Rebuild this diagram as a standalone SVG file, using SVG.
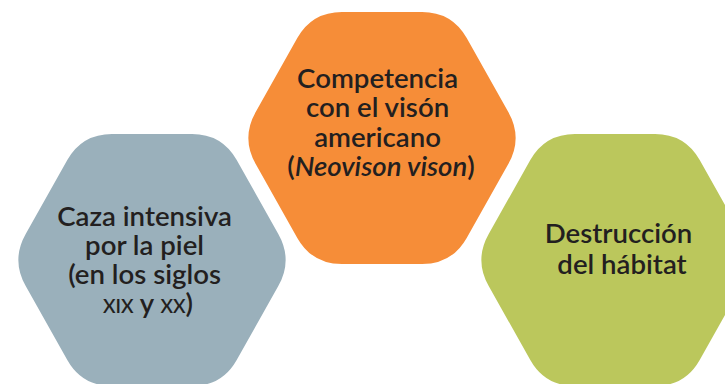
<svg xmlns="http://www.w3.org/2000/svg" xmlns:xlink="http://www.w3.org/1999/xlink" width="725" height="384" viewBox="0 0 725 384">
  <style>
    .lbl { font-family: Lato, "Noto Sans", "Liberation Sans", sans-serif; font-size: 27.6px; font-weight: 600; fill: #231F20; text-anchor: middle; }
    .sc { font-variant: small-caps; }
  </style>
  <defs>
    <path id="hex" d="M -126.3,-26.1 L -84.7,-99.9 Q -70,-126 -40,-126 L 40,-126 Q 70,-126 84.7,-99.9 L 126.3,-26.1 Q 141,0 126.3,26.1 L 84.7,99.9 Q 70,126 40,126 L -40,126 Q -70,126 -84.7,99.9 L -126.3,26.1 Q -141,0 -126.3,-26.1 Z"/>
  </defs>
  <rect width="725" height="384" fill="#FFFFFF"/>
  <g id="connectors"/>
  <g id="node-caza">
    <use xlink:href="#hex" href="#hex" x="152" y="260" fill="#9AB0BB"/>
    <text class="lbl">
      <tspan x="148" y="226">Caza intensiva</tspan>
      <tspan x="148" y="255">por la piel</tspan>
      <tspan x="148" y="284">(en los siglos</tspan>
      <tspan x="148" y="313"><tspan class="sc">xix</tspan> y <tspan class="sc">xx</tspan>)</tspan>
    </text>
  </g>
  <g id="node-competencia">
    <use xlink:href="#hex" href="#hex" x="382" y="138" fill="#F68D38"/>
    <text class="lbl">
      <tspan x="381" y="88">Competencia</tspan>
      <tspan x="381" y="117">con el visón</tspan>
      <tspan x="381" y="147">americano</tspan>
      <tspan x="381" y="176">(<tspan font-style="italic">Neovison vison</tspan>)</tspan>
    </text>
  </g>
  <g id="node-destruccion">
    <use xlink:href="#hex" href="#hex" x="615" y="260" fill="#BBC75C"/>
    <text class="lbl">
      <tspan x="622" y="243">Destrucción</tspan>
      <tspan x="622" y="274">del hábitat</tspan>
    </text>
  </g>
</svg>
